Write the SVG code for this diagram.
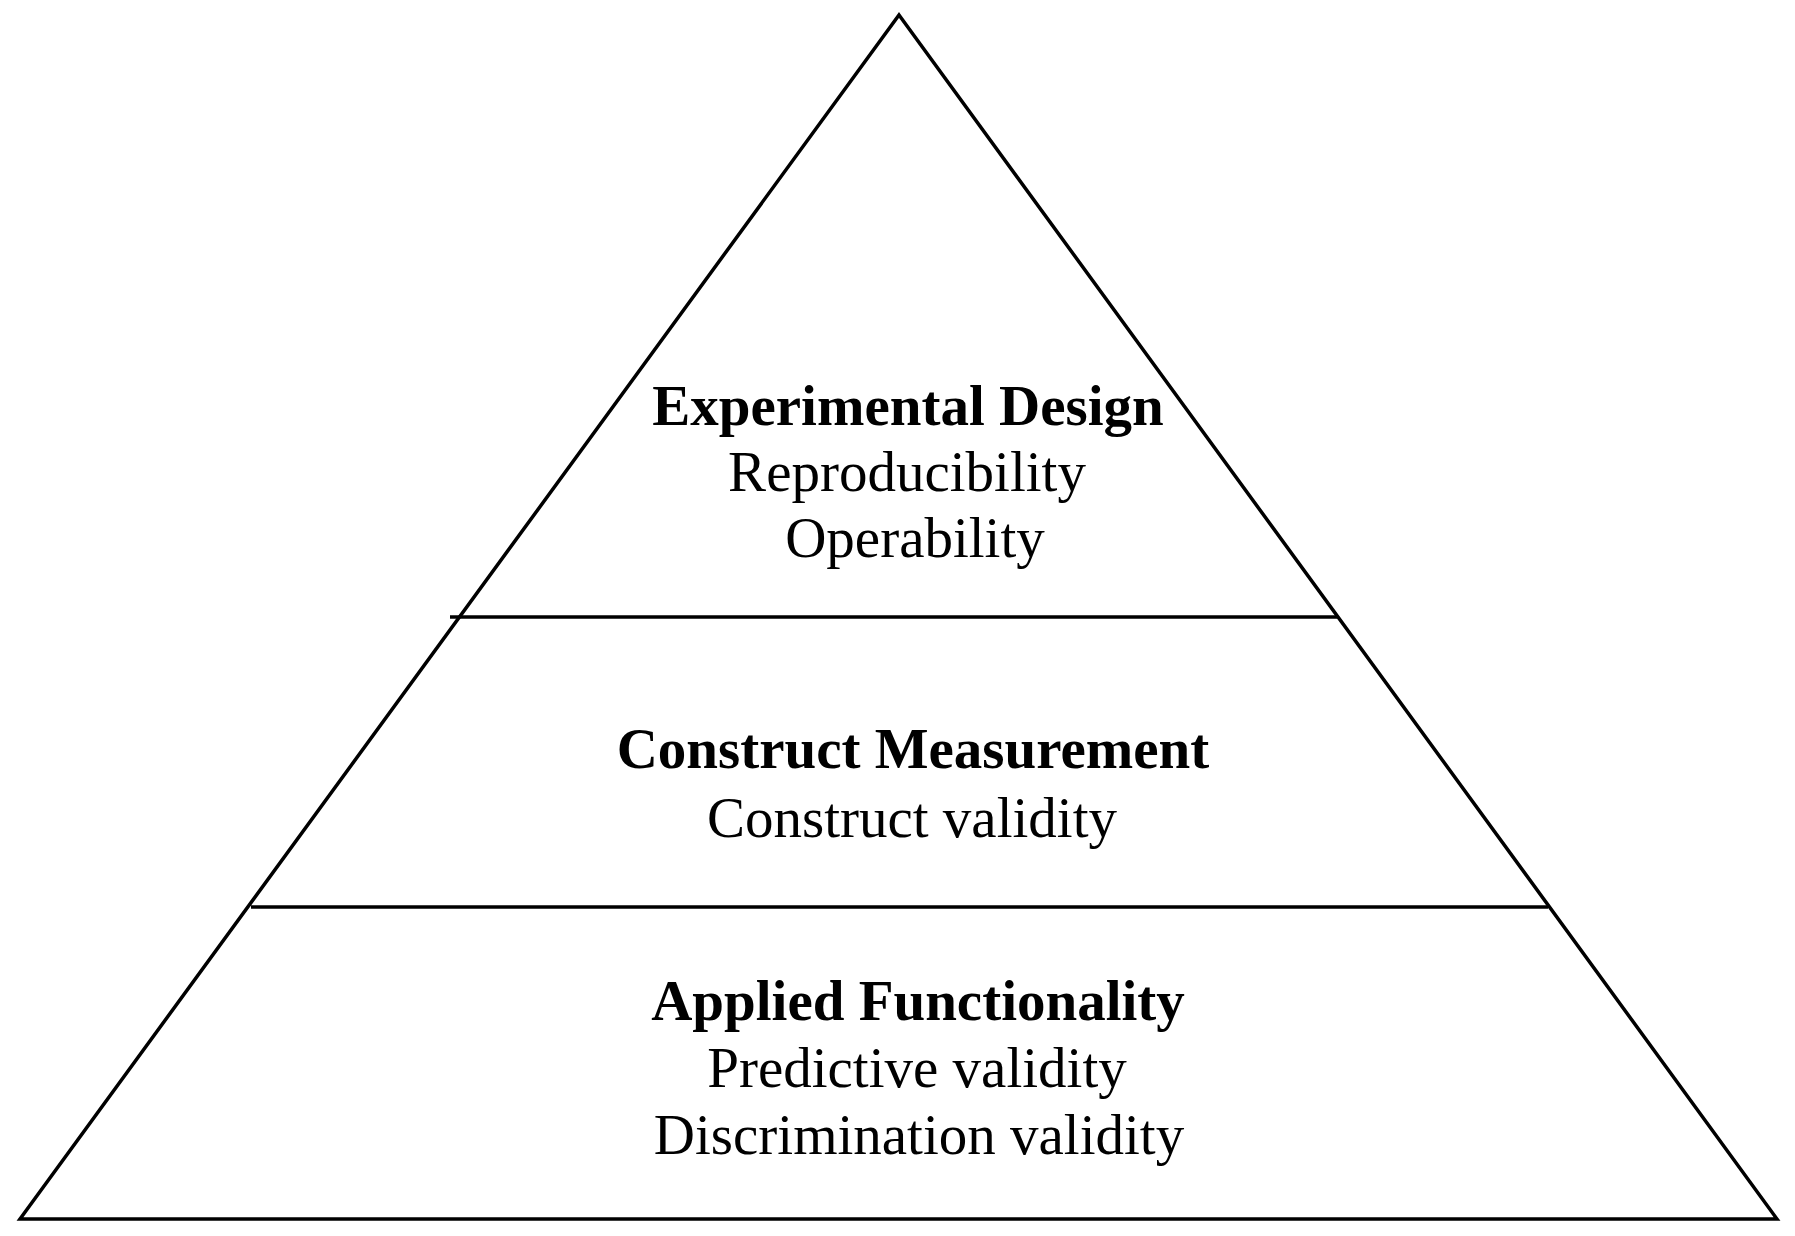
<svg xmlns="http://www.w3.org/2000/svg" width="1795" height="1236" viewBox="0 0 1795 1236">
  <style>
    .edge { stroke: #000; stroke-width: 3.5; fill: none; stroke-linejoin: miter; }
    .t { font-family: "Liberation Serif", "Times New Roman", serif; font-size: 57px; fill: #000; text-anchor: middle; }
    .b { font-weight: bold; font-size: 57px; }
  </style>
  <rect width="1795" height="1236" fill="#fff"/>
  <g id="pyramid">
    <polygon class="edge" points="899,15 1777,1219 20,1219"/>
    <line class="edge" x1="450" y1="617" x2="1337" y2="617"/>
    <line class="edge" x1="251" y1="907" x2="1548" y2="907"/>
  </g>
  <g id="tier-experimental-design">
    <text class="t b" x="908" y="425">Experimental Design</text>
    <text class="t" x="907" y="491">Reproducibility</text>
    <text class="t" x="915" y="557">Operability</text>
  </g>
  <g id="tier-construct-measurement">
    <text class="t b" x="913" y="768">Construct Measurement</text>
    <text class="t" x="912" y="837">Construct validity</text>
  </g>
  <g id="tier-applied-functionality">
    <text class="t b" x="918" y="1020">Applied Functionality</text>
    <text class="t" x="917" y="1087">Predictive validity</text>
    <text class="t" x="919" y="1154">Discrimination validity</text>
  </g>
</svg>
